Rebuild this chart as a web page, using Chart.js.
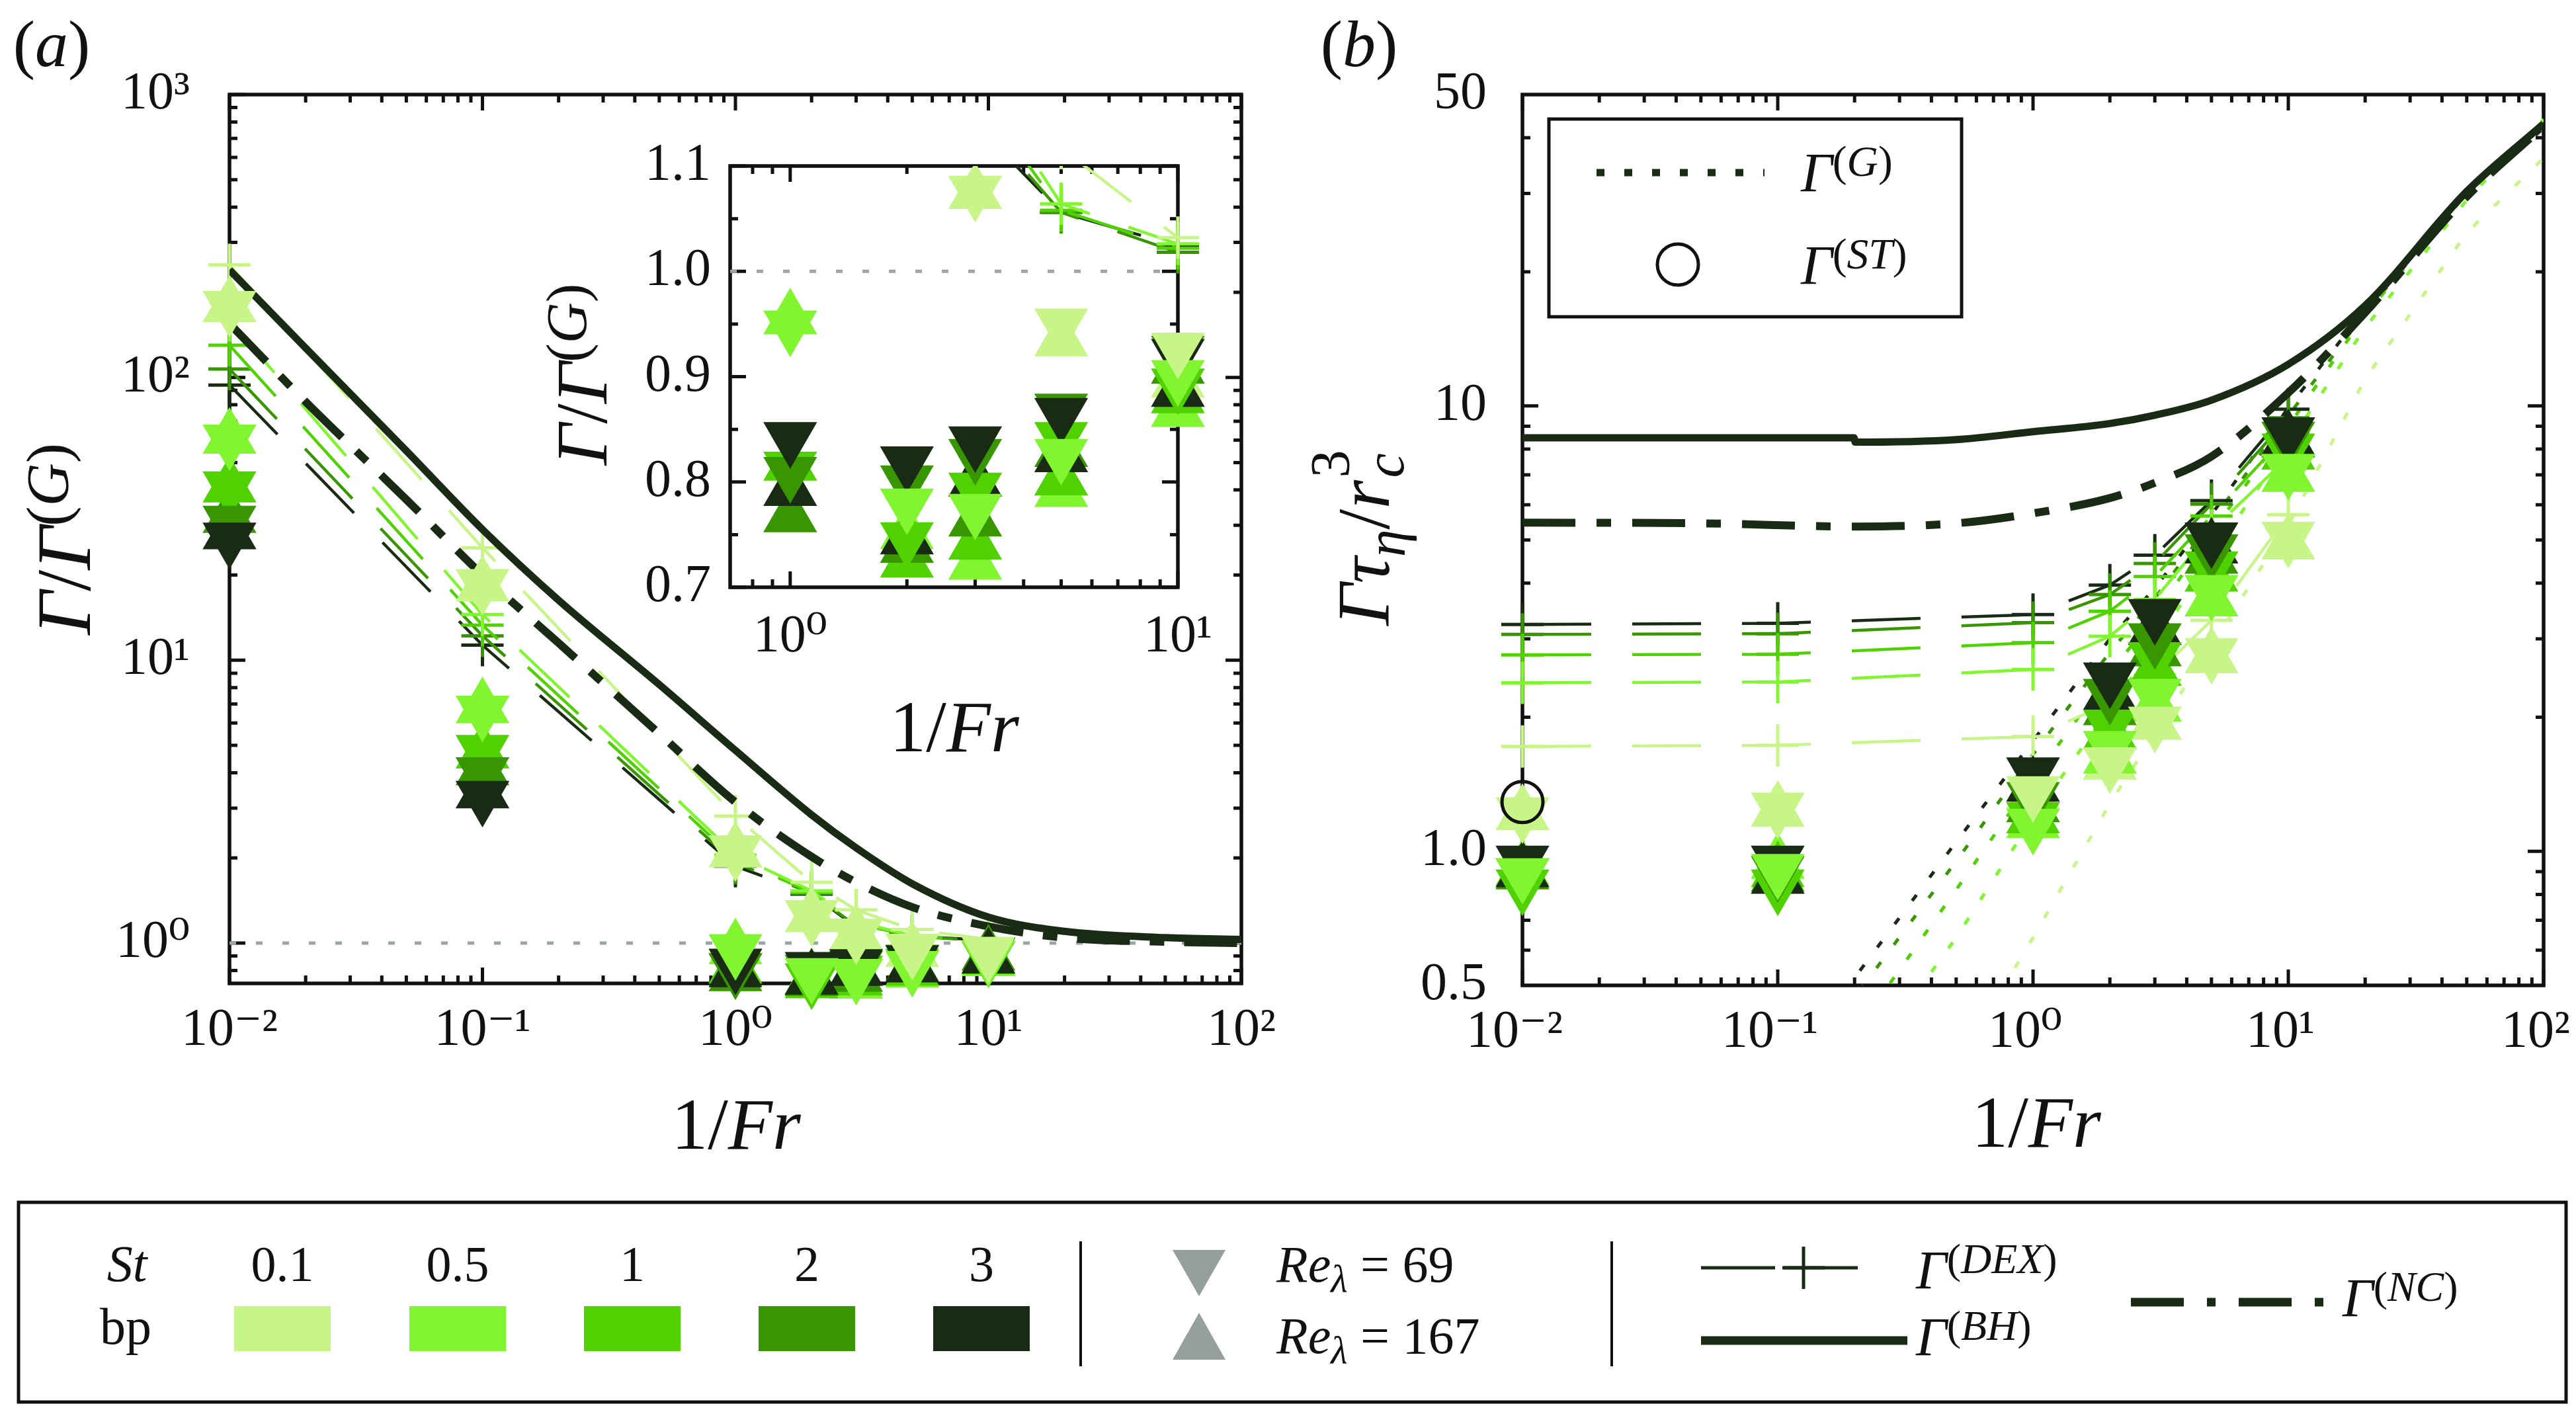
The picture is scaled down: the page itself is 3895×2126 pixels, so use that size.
<!DOCTYPE html>
<html>
<head>
<meta charset="utf-8">
<title>Gamma versus 1/Fr</title>
<script src="https://cdn.jsdelivr.net/npm/chart.js@4.4.1/dist/chart.umd.min.js"></script>
<style>
html, body { margin: 0; padding: 0; background: #ffffff; }
#page { position: relative; width: 3895px; height: 2126px; overflow: hidden; background: #ffffff; }
#page canvas { position: absolute; }
#deco { position: absolute; left: 0; top: 0; }
.t { position: absolute; white-space: nowrap; line-height: 1; color: #111111;
     font-family: "Liberation Serif", "DejaVu Serif", serif; }
.c { transform: translate(-50%, -50%); }
.l { transform: translate(0, -50%); }
.r90 { transform: translate(-50%, -50%) rotate(-90deg); }
.up { font-size: 0.78em; position: relative; top: -0.36em; }
.dn { font-size: 0.75em; position: relative; top: 0.28em; }
.stk { position: relative; display: inline-block; width: 0.5em; height: 0.7em; }
.stk .a { position: absolute; left: 0.04em; top: -0.62em; font-size: 0.75em; }
.stk .b { position: absolute; left: 0.04em; top: 0.36em; font-size: 0.75em; }
</style>
</head>
<body>
<div id="page">
  <canvas id="cA"></canvas>
  <canvas id="cB"></canvas>
  <canvas id="cIn"></canvas>
  <svg id="deco" width="3895" height="2126"></svg>
</div>
<script>
// ---------------- data ----------------
const invFr = [0.01, 0.1, 1, 2, 3, 5, 10];
const stLabels = ['0.1', '0.5', '1', '2', '3'];
const stColors = ['#c8f587', '#80f530', '#50d200', '#389600', '#192b15'];
const darkInk = '#192b15';

// panel (a): Gamma / Gamma^(G), one row per St
const ratioRe69 = [
  [178, 18.5, 2.12, 1.25, 1.076, 0.950, 0.927],
  [60, 6.6, 0.948, 0.779, 0.774, 0.826, 0.901],
  [41, 4.8, 0.814, 0.747, 0.794, 0.842, 0.893],
  [31, 4.0, 0.809, 0.801, 0.826, 0.869, 0.924],
  [27, 3.3, 0.842, 0.819, 0.838, 0.865, 0.921]
];
const ratioRe167 = [
  [178, 18.3, 2.10, 1.24, 1.074, 0.934, 0.895],
  [61, 6.8, 0.955, 0.751, 0.722, 0.791, 0.867],
  [41, 4.7, 0.816, 0.724, 0.741, 0.802, 0.880],
  [32, 4.1, 0.767, 0.738, 0.763, 0.829, 0.908],
  [28, 3.4, 0.792, 0.746, 0.801, 0.824, 0.886]
];
const dexRatio = [
  [250, 25, 2.81, 1.64, 1.31, 1.117, 1.032],
  [159, 14.5, 2.05, 1.53, 1.19, 1.064, 1.026],
  [130, 13.3, 1.98, 1.51, 1.17, 1.058, 1.022],
  [107, 12.2, 1.92, 1.50, 1.15, 1.056, 1.018],
  [94, 11.3, 1.87, 1.49, 1.14, 1.056, 1.024]
];
const modelXa = [0.01, 0.02, 0.05, 0.1, 0.2, 0.5, 1, 2, 3, 5, 10, 20, 50, 100];
const bhRatio = [240, 127, 55, 29, 16.3, 8.2, 4.8, 2.84, 2.17, 1.62, 1.235, 1.10, 1.045, 1.03];
const ncRatio = [155, 82, 37, 20, 11.5, 5.5, 3.15, 2.02, 1.64, 1.34, 1.145, 1.045, 1.01, 1.0];

// panel (b): Gamma tau_eta / r_c^3
const absRe69 = [
  [1.22, 1.25, 1.36, 1.58, 1.95, 2.78, 5.07],
  [0.89, 0.91, 1.15, 1.72, 2.25, 3.85, 7.20],
  [0.84, 0.84, 1.19, 1.92, 2.72, 4.35, 8.00],
  [0.89, 0.90, 1.32, 2.25, 3.00, 4.75, 8.50],
  [0.95, 0.95, 1.50, 2.45, 3.40, 5.05, 8.70]
];
const absRe167 = [
  [1.21, 1.23, 1.35, 1.57, 1.93, 2.72, 4.90],
  [0.91, 0.94, 1.16, 1.62, 2.12, 3.65, 6.95],
  [0.90, 0.90, 1.19, 1.84, 2.55, 4.15, 7.80],
  [0.89, 0.88, 1.26, 2.08, 2.82, 4.55, 8.30],
  [0.90, 0.87, 1.40, 2.25, 3.15, 4.80, 8.40]
];
const dexAbs = [
  [1.72, 1.73, 1.81, 2.15, 2.49, 3.30, 5.70],
  [2.39, 2.40, 2.56, 3.04, 3.68, 5.25, 7.67],
  [2.76, 2.77, 2.94, 3.46, 4.14, 5.66, 8.69],
  [3.07, 3.08, 3.26, 3.77, 4.43, 6.02, 9.40],
  [3.23, 3.25, 3.40, 3.96, 4.62, 6.13, 9.83]
];
const gX = [0.1, 0.2, 0.5, 1, 2, 3, 5, 10, 20, 50, 100];
const gAbs = [
  [0.069, 0.13, 0.33, 0.64, 1.28, 1.84, 2.9, 5.4, 11.5, 24.5, 36],
  [0.15, 0.31, 0.64, 1.19, 2.1, 2.9, 4.6, 8.2, 15, 29, 44],
  [0.21, 0.39, 0.82, 1.45, 2.5, 3.4, 5.2, 9.0, 16, 30, 43],
  [0.26, 0.47, 0.95, 1.65, 2.8, 3.7, 5.5, 9.5, 16.2, 30, 42],
  [0.29, 0.52, 1.05, 1.77, 3.0, 3.9, 5.7, 9.9, 16.5, 30, 42]
];
const bhX = [0.01, 0.05, 0.199, 0.201, 0.5, 1, 2, 3, 5, 10, 20, 50, 100];
const bhAbs = [8.48, 8.48, 8.48, 8.29, 8.40, 8.75, 9.13, 9.53, 10.3, 12.4, 16.8, 30.3, 43];
const ncX = [0.01, 0.05, 0.2, 0.5, 1, 2, 3, 5, 10, 20, 50, 100];
const ncAbs = [5.47, 5.45, 5.36, 5.45, 5.74, 6.21, 6.72, 7.70, 10.7, 16.2, 29.5, 42.5];
const stX = [0.01];
const stAbs = [1.29];

// ticks
const xTickVals = [0.01, 0.1, 1, 10, 100];
const xTickLabels = ['10\u207B\u00B2', '10\u207B\u00B9', '10\u2070', '10\u00B9', '10\u00B2'];
const yTickValsA = [1, 10, 100, 1000];
const yTickLabelsA = ['10\u2070', '10\u00B9', '10\u00B2', '10\u00B3'];
const inXTickVals = [1, 10];
const inXTickLabels = ['10\u2070', '10\u00B9'];
const inYTickVals = [0.7, 0.8, 0.9, 1.0, 1.1];
const inYTickLabels = ['0.7', '0.8', '0.9', '1.0', '1.1'];
const inYMinor = [0.75, 0.85, 0.95, 1.05];
const yTickValsB = [0.5, 1, 10, 50];
const yTickLabelsB = ['0.5', '1.0', '10', '50'];

// ---------------- helpers ----------------
const FONT_FAMILY = "'Liberation Serif', 'DejaVu Serif', serif";
Chart.defaults.font.family = FONT_FAMILY;
Chart.defaults.color = '#111111';

function pts(xs, ys) {
  return xs.map(function (x, i) { return { x: x, y: ys[i] }; });
}

function minorLog(min, max) {
  const out = [];
  for (let e = Math.floor(Math.log10(min)); e <= Math.ceil(Math.log10(max)); e++) {
    for (let m = 2; m <= 9; m++) {
      const v = m * Math.pow(10, e);
      if (v > min * 1.0001 && v < max * 0.9999) out.push(v);
    }
  }
  return out;
}

// frame with inward ticks on all four sides
function makeFrame(cfg) {
  return {
    id: 'frameTicks',
    beforeDraw(chart) {
      if (!cfg.fill) return;
      const a = chart.chartArea;
      chart.ctx.save();
      chart.ctx.fillStyle = '#ffffff';
      chart.ctx.fillRect(a.left, a.top, a.width, a.height);
      chart.ctx.restore();
    },
    beforeDatasetsDraw(chart) {
      const ctx = chart.ctx, a = chart.chartArea;
      const sx = chart.scales.x, sy = chart.scales.y;
      ctx.save();
      ctx.strokeStyle = '#111111';
      ctx.lineWidth = 5;
      function vt(vals, len) {
        vals.forEach(function (v) {
          const p = sx.getPixelForValue(v);
          if (p < a.left - 0.5 || p > a.right + 0.5) return;
          ctx.beginPath();
          ctx.moveTo(p, a.bottom); ctx.lineTo(p, a.bottom - len);
          ctx.moveTo(p, a.top); ctx.lineTo(p, a.top + len);
          ctx.stroke();
        });
      }
      function ht(vals, len) {
        vals.forEach(function (v) {
          const p = sy.getPixelForValue(v);
          if (p < a.top - 0.5 || p > a.bottom + 0.5) return;
          ctx.beginPath();
          ctx.moveTo(a.left, p); ctx.lineTo(a.left + len, p);
          ctx.moveTo(a.right, p); ctx.lineTo(a.right - len, p);
          ctx.stroke();
        });
      }
      vt(cfg.xMajor, 24); vt(cfg.xMinor, 12);
      ht(cfg.yMajor, 24); ht(cfg.yMinor, 12);
      ctx.lineWidth = 5.5;
      ctx.strokeRect(a.left, a.top, a.width, a.height);
      ctx.restore();
    }
  };
}

function axis(type, min, max, vals, labels, pad, fixed, horizontal, shift) {
  return {
    type: type, min: min, max: max, bounds: 'data',
    grid: { display: false, drawTicks: false },
    border: { display: false },
    ticks: {
      padding: pad, autoSkip: false, maxRotation: 0, minRotation: 0, color: '#111111',
      labelOffset: shift || 0,
      font: { family: FONT_FAMILY, size: 80 },
      callback: function (value, index) { return labels[index]; }
    },
    afterBuildTicks: function (scale) {
      scale.ticks = vals.map(function (v) { return { value: v }; });
    },
    afterFit: function (scale) {
      if (horizontal) scale.height = fixed; else scale.width = fixed;
      scale.paddingLeft = 0; scale.paddingRight = 0;
      scale.paddingTop = 0; scale.paddingBottom = 0;
    }
  };
}

// drawing order: smaller order is drawn on top
const upOrder = [5.4, 5.3, 5.2, 5.1, 5.0];
const downOrder = [4.0, 4.1, 4.4, 4.3, 4.2];

function markerSets(rows, down, clip) {
  return rows.map(function (row, s) {
    return {
      data: pts(invFr, row), showLine: false,
      pointStyle: 'triangle', pointRotation: down ? 180 : 0,
      pointRadius: 47, pointHoverRadius: 47,
      pointBackgroundColor: stColors[s], pointBorderColor: stColors[s], pointBorderWidth: 0,
      clip: clip, order: down ? downOrder[s] : upOrder[s]
    };
  });
}

function dexSets(rows, clip) {
  return rows.map(function (row, s) {
    return {
      data: pts(invFr, row), showLine: true,
      borderColor: stColors[s], borderWidth: 4.5, borderDash: [104, 62],
      pointStyle: 'cross', pointRadius: 32, pointHoverRadius: 32, pointBorderWidth: 5,
      pointBorderColor: stColors[s], pointBackgroundColor: stColors[s],
      clip: clip, order: 15 + s * 0.1
    };
  });
}

function curve(xs, ys, width, dash, order) {
  return {
    data: pts(xs, ys), showLine: true, borderColor: darkInk, borderWidth: width, borderDash: dash,
    pointRadius: 0, pointHoverRadius: 0, cubicInterpolationMode: 'monotone', order: order
  };
}

function unityLine(x0, x1) {
  return {
    data: pts([x0, x1], [1, 1]), showLine: true, borderColor: '#9aa5a5', borderWidth: 5,
    borderDash: [10, 30], pointRadius: 0, pointHoverRadius: 0, order: 30
  };
}

function place(id, left, top, width, height) {
  const c = document.getElementById(id);
  c.width = width; c.height = height;
  c.style.left = left + 'px'; c.style.top = top + 'px';
  c.style.width = width + 'px'; c.style.height = height + 'px';
  return c;
}

function baseOptions(pad, xAxis, yAxis) {
  return {
    responsive: false, animation: false, devicePixelRatio: 1, events: [],
    layout: { padding: pad },
    plugins: { legend: { display: false }, tooltip: { enabled: false } },
    scales: { x: xAxis, y: yAxis }
  };
}

// ---------------- panel (a) ----------------
const dsA = [unityLine(0.01, 100)]
  .concat(dexSets(dexRatio, false))
  .concat([curve(modelXa, ncRatio, 12, [80, 30, 22, 30], 12), curve(modelXa, bhRatio, 11, [], 11)])
  .concat(markerSets(ratioRe167, false, false))
  .concat(markerSets(ratioRe69, true, false));

new Chart(place('cA', 157, 83, 1810, 1564), {
  type: 'scatter',
  data: { datasets: dsA },
  options: baseOptions({ left: 0, right: 90, top: 60, bottom: 0 },
    axis('logarithmic', 0.01, 100, xTickVals, xTickLabels, 24, 160, true),
    axis('logarithmic', 0.72, 1000, yTickValsA, yTickLabelsA, 60, 190, false)),
  plugins: [makeFrame({ xMajor: xTickVals, xMinor: minorLog(0.01, 100),
                        yMajor: yTickValsA, yMinor: minorLog(0.72, 1000) })]
});

// ---------------- inset of (a) ----------------
const inClip = { left: 60, right: 60, top: 0, bottom: 40 };
const dsIn = [unityLine(0.7, 10)]
  .concat(dexSets(dexRatio, { left: 40, right: 40, top: 0, bottom: 0 }))
  .concat(markerSets(ratioRe167, false, inClip))
  .concat(markerSets(ratioRe69, true, inClip));

new Chart(place('cIn', 959, 204, 882, 814), {
  type: 'scatter',
  data: { datasets: dsIn },
  options: baseOptions({ left: 0, right: 60, top: 40, bottom: 0 },
    axis('logarithmic', 0.7, 10, inXTickVals, inXTickLabels, 28, 130, true),
    axis('linear', 0.7, 1.1, inYTickVals, inYTickLabels, 29, 145, false)),
  plugins: [makeFrame({ fill: true, xMajor: inXTickVals, xMinor: minorLog(0.7, 10),
                        yMajor: inYTickVals, yMinor: inYMinor })]
});

// ---------------- panel (b) ----------------
const gSets = gAbs.map(function (row, s) {
  return {
    data: pts(gX, row), showLine: true, borderColor: stColors[s], borderWidth: 5,
    borderDash: [11, 33], pointRadius: 0, pointHoverRadius: 0, order: 20 + s * 0.1
  };
});
const dsB = gSets
  .concat(dexSets(dexAbs, false))
  .concat([curve(ncX, ncAbs, 12, [80, 32, 22, 32], 12), curve(bhX, bhAbs, 11, [], 11)])
  .concat(markerSets(absRe167, false, false))
  .concat(markerSets(absRe69, true, false))
  .concat([{
    data: pts(stX, stAbs), showLine: false, pointStyle: 'circle', pointRadius: 31, pointHoverRadius: 31,
    pointBorderWidth: 5, pointBorderColor: '#111111', pointBackgroundColor: 'rgba(255,255,255,0)',
    clip: false, order: -1
  }]);

new Chart(place('cB', 2112, 83, 1783, 1567), {
  type: 'scatter',
  data: { datasets: dsB },
  options: baseOptions({ left: 0, right: 49, top: 60, bottom: 0 },
    axis('logarithmic', 0.01, 100, xTickVals, xTickLabels, 24, 160, true, -12),
    axis('logarithmic', 0.5, 50, yTickValsB, yTickLabelsB, 54, 190, false)),
  plugins: [makeFrame({ xMajor: xTickVals, xMinor: minorLog(0.01, 100),
                        yMajor: [1, 10], yMinor: minorLog(0.5, 50) })]
});

// ---------------- text ----------------
const page = document.getElementById('page');
function text(html, x, y, cls, size, extra) {
  const d = document.createElement('div');
  d.className = 't ' + cls;
  d.style.left = x + 'px'; d.style.top = y + 'px';
  d.style.fontSize = size + 'px';
  if (extra) d.style.cssText += extra;
  d.innerHTML = html;
  page.appendChild(d);
}
const gOverG = '<i>\u0393</i>/<i>\u0393</i><span class="up">(<i>G</i>)</span>';
const oneOverFr = '1/<i>Fr</i>';
text('(<i>a</i>)', 78, 67, 'c', 100);
text('(<i>b</i>)', 2055, 67, 'c', 100);
text(gOverG, 97, 815, 'r90', 116);
text(oneOverFr, 1113, 1700, 'c', 110);
text(gOverG, 880, 566, 'r90', 110);
text(oneOverFr, 1443, 1099, 'c', 110);
text('<i>\u0393\u03C4</i><span class="dn"><i>\u03B7</i></span>/<i>r</i>' +
     '<span class="stk"><span class="a">3</span><span class="b"><i>c</i></span></span>',
     2062, 808, 'r90', 112);
text(oneOverFr, 3079, 1697, 'c', 110);

// legend inside (b)
text('<i>\u0393</i><span class="up">(<i>G</i>)</span>', 2723, 262, 'l', 84);
text('<i>\u0393</i><span class="up">(<i>ST</i>)</span>', 2723, 402, 'l', 84);

// bottom legend
text('<i>St</i>', 192, 1911, 'c', 78);
text('bp', 190, 2006, 'c', 78);
const swatchX = [354, 619, 883, 1147, 1411];
stLabels.forEach(function (s, i) { text(s, swatchX[i] + 73, 1911, 'c', 76); });
text('<i>Re</i><span class="dn"><i>\u03BB</i></span> = 69', 1930, 1912, 'l', 78);
text('<i>Re</i><span class="dn"><i>\u03BB</i></span> = 167', 1930, 2020, 'l', 78);
text('<i>\u0393</i><span class="up">(<i>DEX</i>)</span>', 2897, 1921, 'l', 82);
text('<i>\u0393</i><span class="up">(<i>BH</i>)</span>', 2897, 2022, 'l', 82);
text('<i>\u0393</i><span class="up">(<i>NC</i>)</span>', 3542, 1963, 'l', 82);

// ---------------- legend glyphs ----------------
const svg = document.getElementById('deco');
function el(tag, attrs) {
  const e = document.createElementNS('http://www.w3.org/2000/svg', tag);
  Object.keys(attrs).forEach(function (k) { e.setAttribute(k, attrs[k]); });
  svg.appendChild(e);
}
// box in (b)
el('rect', { x: 2342, y: 180, width: 624, height: 299, fill: '#ffffff', stroke: '#111111', 'stroke-width': 5 });
el('line', { x1: 2414, y1: 261, x2: 2668, y2: 261, stroke: darkInk, 'stroke-width': 11, 'stroke-dasharray': '12 30' });
el('circle', { cx: 2537, cy: 400, r: 31, fill: 'none', stroke: '#111111', 'stroke-width': 5 });
// bottom box
el('rect', { x: 28, y: 1818, width: 3852, height: 302, fill: 'none', stroke: '#111111', 'stroke-width': 5 });
stColors.forEach(function (c, i) {
  el('rect', { x: swatchX[i], y: 1975, width: 146, height: 68, fill: c });
});
el('line', { x1: 1634, y1: 1877, x2: 1634, y2: 2066, stroke: '#111111', 'stroke-width': 4 });
el('line', { x1: 2437, y1: 1877, x2: 2437, y2: 2066, stroke: '#111111', 'stroke-width': 4 });
el('polygon', { points: '1773,1890 1853,1890 1813,1960', fill: '#96a09b' });
el('polygon', { points: '1813,1985 1773,2056 1853,2056', fill: '#96a09b' });
el('line', { x1: 2572, y1: 1917, x2: 2822, y2: 1917, stroke: darkInk, 'stroke-width': 5, 'stroke-dasharray': '112 13' });
el('line', { x1: 2727, y1: 1885, x2: 2727, y2: 1949, stroke: darkInk, 'stroke-width': 5 });
el('line', { x1: 2695, y1: 1917, x2: 2759, y2: 1917, stroke: darkInk, 'stroke-width': 5 });
el('line', { x1: 2572, y1: 2027, x2: 2884, y2: 2027, stroke: darkInk, 'stroke-width': 13 });
el('line', { x1: 3222, y1: 1969, x2: 3522, y2: 1969, stroke: darkInk, 'stroke-width': 13, 'stroke-dasharray': '80 35 13 35' });
</script>
</body>
</html>
